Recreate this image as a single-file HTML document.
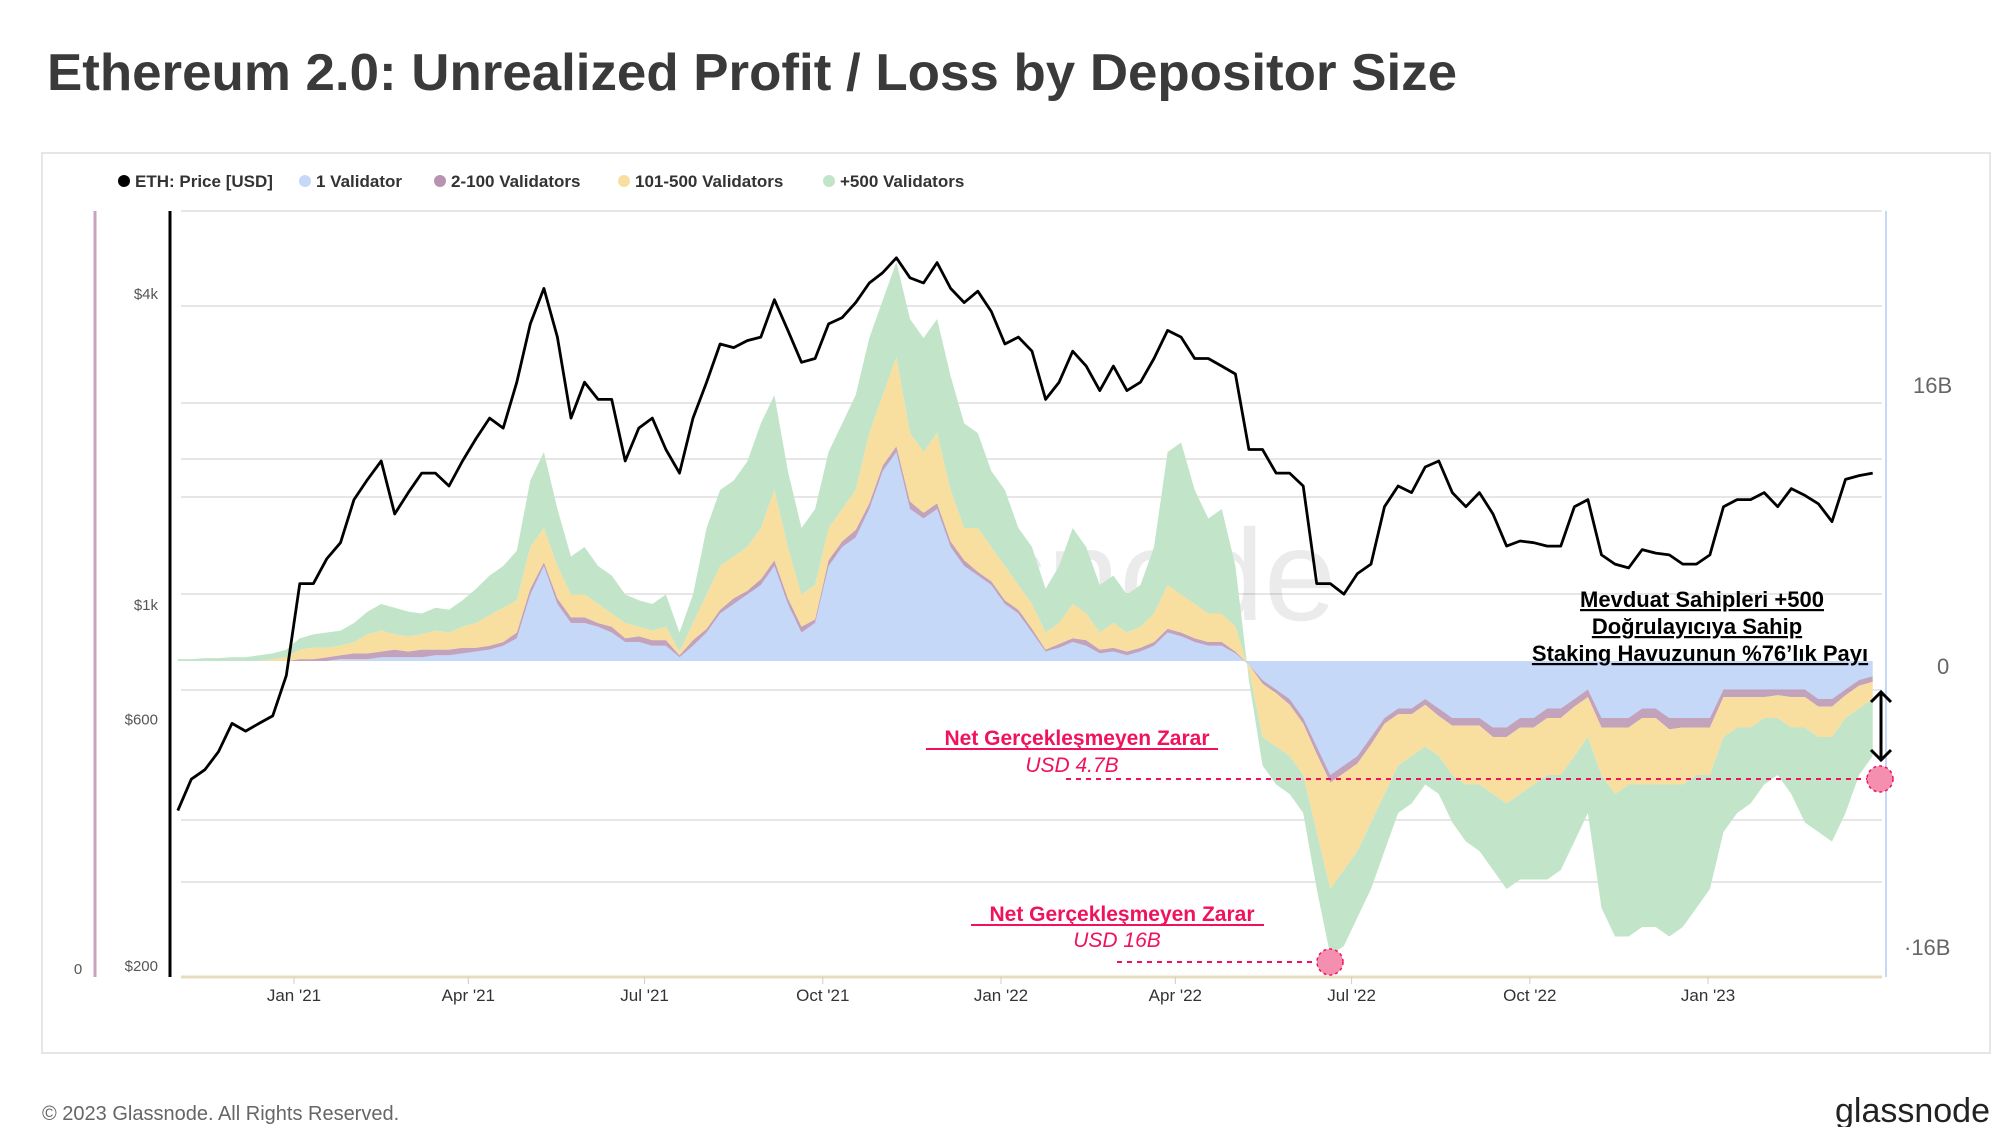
<!DOCTYPE html>
<html><head><meta charset="utf-8"><style>
html,body{margin:0;padding:0;background:#fff;}
svg{display:block;font-family:"Liberation Sans",sans-serif;}
</style></head><body>
<svg id="chart" width="2000" height="1127" viewBox="0 0 2000 1127" xmlns="http://www.w3.org/2000/svg">
<text x="47" y="90" font-size="52" font-weight="bold" fill="#3a3a3a" textLength="1410" lengthAdjust="spacingAndGlyphs">Ethereum 2.0: Unrealized Profit / Loss by Depositor Size</text>
<rect x="42" y="153" width="1948" height="900" fill="#fff" stroke="#e6e6e6" stroke-width="2"/>
<g font-size="17" font-weight="bold" fill="#333">
 <g><circle cx="124" cy="181" r="6" fill="#000"/><text x="135" y="187">ETH: Price [USD]</text></g>
 <g><circle cx="305" cy="181" r="6" fill="#c5d8f7"/><text x="316" y="187">1 Validator</text></g>
 <g><circle cx="440" cy="181" r="6" fill="#b892b0"/><text x="451" y="187">2-100 Validators</text></g>
 <g><circle cx="624" cy="181" r="6" fill="#f8dfa0"/><text x="635" y="187">101-500 Validators</text></g>
 <g><circle cx="829" cy="181" r="6" fill="#c2e5c9"/><text x="840" y="187">+500 Validators</text></g>
</g>
<g id="grid"></g>
<text x="1040" y="620" font-size="130" fill="#000" fill-opacity="0.08" text-anchor="middle">glassnode</text>
<g id="areas"></g>
<g id="price"></g>
<line x1="95" y1="211" x2="95" y2="977" stroke="#c9a2c0" stroke-width="3"/>
<line x1="170" y1="211" x2="170" y2="977" stroke="#000" stroke-width="3"/>
<line x1="1886" y1="211" x2="1886" y2="977" stroke="#c5d8f7" stroke-width="2"/>
<line x1="181" y1="977" x2="1882" y2="977" stroke="#e8dcc0" stroke-width="3"/>
<g id="ylabels" font-size="15" fill="#555" text-anchor="end"></g>
<text x="78" y="974" font-size="15" fill="#555" text-anchor="middle">0</text>
<g id="rlabels" font-size="22" fill="#666"></g>
<g id="xlabels" font-size="17" fill="#333" text-anchor="middle"></g>

<g font-size="22" font-weight="bold" fill="#000" text-anchor="middle" text-decoration="underline">
 <text x="1702" y="607">Mevduat Sahipleri +500</text>
 <text x="1697" y="634">Doğrulayıcıya Sahip</text>
 <text x="1700" y="661">Staking Havuzunun %76’lık Payı</text>
</g>
<g stroke="#000" stroke-width="3" fill="none">
 <line x1="1881" y1="692" x2="1881" y2="760"/>
 <polyline points="1871,702 1881,692 1891,702"/>
 <polyline points="1871,750 1881,760 1891,750"/>
</g>
<g>
 <line x1="1066" y1="779" x2="1880" y2="779" stroke="#f0125e" stroke-width="2" stroke-dasharray="5,5"/>
 <circle cx="1880" cy="779" r="13" fill="#f58fb0" stroke="#f0125e" stroke-width="1.5" stroke-dasharray="3,3"/>
 <text x="1077" y="745" font-size="21" font-weight="bold" fill="#f0125e" text-anchor="middle">Net Gerçekleşmeyen Zarar</text>
 <line x1="926" y1="749" x2="1218" y2="749" stroke="#f0125e" stroke-width="2"/>
 <text x="1072" y="772" font-size="21" font-style="italic" fill="#f0125e" text-anchor="middle">USD 4.7B</text>
</g>
<g>
 <line x1="1117" y1="962" x2="1330" y2="962" stroke="#f0125e" stroke-width="2" stroke-dasharray="5,5"/>
 <circle cx="1330" cy="962" r="13" fill="#f58fb0" stroke="#f0125e" stroke-width="1.5" stroke-dasharray="3,3"/>
 <text x="1122" y="921" font-size="21" font-weight="bold" fill="#f0125e" text-anchor="middle">Net Gerçekleşmeyen Zarar</text>
 <line x1="971" y1="925" x2="1264" y2="925" stroke="#f0125e" stroke-width="2"/>
 <text x="1117" y="947" font-size="21" font-style="italic" fill="#f0125e" text-anchor="middle">USD 16B</text>
</g>
<text x="42" y="1120" font-size="20" fill="#666">© 2023 Glassnode. All Rights Reserved.</text>
<text x="1990" y="1122" font-size="34" fill="#222" text-anchor="end">glassnode</text>
</svg>
<script>
const priceTickLabels=["$4k","$1k","$600","$200"];
const priceTickValues=[4000,1000,600,200];
const pnlTickLabels=["16B","0","·16B"];
const pnlTickValues=[16,0,-16];
const xTickLabels=["Jan '21","Apr '21","Jul '21","Oct '21","Jan '22","Apr '22","Jul '22","Oct '22","Jan '23"];
const xTickDays=[0,90,181,273,365,455,546,638,730];
const price=[400,460,480,520,590,570,590,610,730,
1100,1100,1230,1320,1600,1750,1900,1500,1650,1800,1800,1700,1900,2100,2300,2200,2700,3500,4100,3300,2300,2700,2500,2500,1900,2200,2300,2000,1800,2300,2700,3200,3150,3250,3300,3900,3400,2950,3000,3500,3600,3850,4200,4400,4700,4300,4200,4600,4100,3850,4050,3700,
3200,3300,3100,2500,2700,3100,2900,2600,2900,2600,2700,3000,3400,3300,3000,3000,2900,2800,2000,2000,1800,1800,1700,1100,1100,1050,1150,1200,1550,1700,1650,1850,1900,1650,1550,1650,1500,1300,1330,1320,1300,1300,1550,1600,1250,1200,1180,1280,1260,1250,1200,1200,
1250,1550,1600,1600,1650,1550,1680,1630,1570,1450,1750,1780,1800];
const greenTop=[.1,.1,.15,.15,.2,.2,.3,.4,.6,
1.2,1.4,1.5,1.6,2.0,2.6,3.0,2.8,2.6,2.5,2.8,2.7,3.2,3.8,4.5,5.0,5.8,9.5,11,8,5.5,6,5,4.5,3.5,3.2,3,3.5,1.5,3.5,7,9,9.5,10.5,12.5,14,10,7,8,11,12.5,14,17,19,21,18,17,18,15,12.5,12,10,
9,7,6,3.8,5,7,6,4,4.5,3.5,4,6,11,11.5,9,7.5,8,5,-1,-5.5,-6.5,-7,-8,-12,-15.5,-15,-13.5,-12,-10,-8,-7.5,-6.5,-7,-8.5,-9.5,-10,-11,-12,-11.5,-11.5,-11.5,-11,-9.5,-8,-13,-14.5,-14.5,-14,-14,-14.5,-14,-13,
-12,-9,-8,-7.5,-6.5,-6,-7,-8.5,-9,-9.5,-8,-6,-5];
const yellowTop=[0,0,0,0,0,0,0,.1,.2,
.6,.7,.7,.8,1.0,1.4,1.6,1.4,1.3,1.4,1.6,1.5,1.8,2,2.4,2.8,3.2,6,7,5,3.5,3.5,3,2.5,2,1.8,1.6,1.8,.5,2,3.5,5,5.5,6,7,9,6,3.5,4,7,8,9,12,14,16,12,11,12,9,7,7,6,
5,4,3,1.5,2,3,2.5,1.5,2,1.5,1.8,2.5,4,3.5,3,2.5,2.5,1.8,-.5,-4,-4.5,-5,-6,-9,-12,-11,-10,-8.5,-7,-5.5,-5,-4.5,-5,-6,-6.5,-6.5,-7,-7.5,-7,-6.5,-6,-6,-5,-4,-6,-7,-6.5,-6.5,-6.5,-6.5,-6.5,-6,
-6,-4,-3.5,-3.5,-3,-3,-3.5,-3.5,-4,-4,-3,-2.5,-2];
const blueTop=[0,0,0,0,0,0,0,0,0,
0,0,0,.1,.1,.1,.2,.2,.2,.2,.3,.3,.4,.5,.6,.8,1.2,3.5,5,3,2,2,1.8,1.5,1,1,.8,.8,.2,.8,1.5,2.5,3,3.5,4,5,3,1.5,2,5,6,6.5,8,10,11,8,7.5,8,6,5,4.5,4,
3,2.5,1.5,.5,.7,1,.8,.4,.5,.3,.5,.8,1.5,1.3,1,.8,.8,.4,-.2,-1,-1.5,-2,-3,-4.5,-6,-5.5,-5,-4,-3,-2.5,-2.5,-2,-2.5,-3,-3,-3,-3.5,-3.5,-3,-3,-2.5,-2.5,-2,-1.5,-3,-3,-3,-2.5,-2.5,-3,-3,-3,
-3,-1.5,-1.5,-1.5,-1.5,-1.5,-1.5,-1.5,-2,-2,-1.5,-1,-.8];
const purple=[0,0,0,0,0,0,0,0,0,
.1,.1,.2,.2,.3,.3,.3,.4,.3,.4,.3,.3,.3,.2,.2,.2,.3,.3,.2,.3,.3,.3,.2,.3,.2,.3,.3,.3,.1,.3,.2,.2,.3,.2,.3,.3,.3,.3,.2,.3,.3,.4,.3,.3,.3,.4,.3,.3,.3,.3,.2,.2,
.2,.2,.2,.1,.2,.2,.3,.2,.2,.2,.2,.2,.2,.2,.2,.2,.2,.1,0,-.2,-.2,-.3,-.3,-.4,-.4,-.4,-.4,-.4,-.3,-.3,-.3,-.3,-.4,-.4,-.4,-.4,-.5,-.5,-.5,-.5,-.5,-.5,-.4,-.4,-.5,-.5,-.5,-.5,-.5,-.6,-.5,-.5,
-.5,-.4,-.4,-.4,-.4,-.3,-.4,-.4,-.4,-.4,-.3,-.3,-.3];

const NS="http://www.w3.org/2000/svg";
function dayOf(i){return -60+7*i;}
function xDay(d){return 294+d*1.937;}
function xOf(i){return xDay(dayOf(i));}
function yPrice(p){return 605-516.6*Math.log10(p/1000);}
function yB(v){return 661-19*v;}
function mk(tag,attrs,parent){const e=document.createElementNS(NS,tag);for(const k in attrs)e.setAttribute(k,attrs[k]);parent.appendChild(e);return e;}

const grid=document.getElementById('grid');
[211,306,403,459,497,594,690,820,882].forEach(function(y){
 const l=mk('line',{x1:181,x2:1882,y1:y,y2:y,stroke:'#e6e6e6','stroke-width':2},grid);
 
 
});

const areas=document.getElementById('areas');
function band(lower,upper,color,name,op){
 let pts=[];
 for(let i=0;i<price.length;i++)pts.push(xOf(i).toFixed(1)+','+yB(upper(i)).toFixed(1));
 for(let i=price.length-1;i>=0;i--)pts.push(xOf(i).toFixed(1)+','+yB(lower(i)).toFixed(1));
 const p=mk('polygon',{points:pts.join(' '),fill:color,'fill-opacity':op},areas);
 
 
}
band(i=>0,i=>blueTop[i],'#c5d8f7','area-1-validator',1);
band(i=>blueTop[i],i=>blueTop[i]+purple[i],'#b892b0','area-2-100-validators',0.85);
band(i=>blueTop[i]+purple[i],i=>yellowTop[i],'#f8dfa0','area-101-500-validators',1);
band(i=>yellowTop[i],i=>greenTop[i],'#c2e5c9','area-500-plus-validators',1);

const pg=document.getElementById('price');
const pl=mk('polyline',{points:price.map((p,i)=>xOf(i).toFixed(1)+','+yPrice(p).toFixed(1)).join(' '),fill:'none',stroke:'#000','stroke-width':2.8,'stroke-linejoin':'round'},pg);



const yl=document.getElementById('ylabels');
priceTickValues.forEach(function(v,k){
 const t=mk('text',{x:158,y:yPrice(v)+5},yl);t.textContent=priceTickLabels[k];
 
 
});
const rl=document.getElementById('rlabels');
pnlTickValues.forEach(function(v,k){
 const base=v===16?385:(v===0?666:947);
 const t=mk('text',{x:v===0?1937:(v>0?1913:1904),y:base+8},rl);t.textContent=pnlTickLabels[k];
 
 
});
const xl=document.getElementById('xlabels');
xTickDays.forEach(function(d,k){
 const t=mk('text',{x:xDay(d),y:1001},xl);t.textContent=xTickLabels[k];
 
 
 const tk=mk('line',{x1:xDay(d),x2:xDay(d),y1:977,y2:984,stroke:'#ccc'},xl);
 
 
});
</script>
</body></html>
